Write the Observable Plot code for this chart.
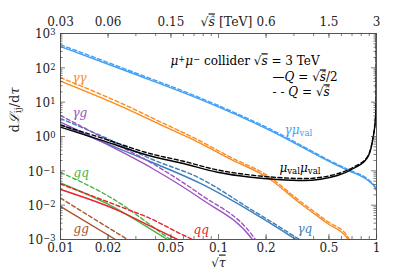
<!DOCTYPE html>
<html><head><meta charset="utf-8">
<script src="https://cdn.jsdelivr.net/npm/d3@7"></script>
<script src="https://cdn.jsdelivr.net/npm/@observablehq/plot@0.6"></script>
<style>html,body{margin:0;padding:0;background:#fff}svg{display:block}svg text{font-family:"DejaVu Serif",serif !important}</style>
</head><body><div id="chart"></div>
<script>
// ---- data (x = sqrt(tau), values = dL/dtau); "Half" = Q=sqrt(s^)/2 (solid), "Full" = Q=sqrt(s^) (dashed)
const photonMuX    = [0.01, 0.0277, 0.0769, 0.213, 0.566, 0.665, 0.916, 0.971, 1.0];
const photonMuHalf = [420, 73, 12, 1.49, 0.143, 0.102, 0.0457, 0.0349, 0.0267];
const photonMuFull = [470, 81, 13.2, 1.63, 0.154, 0.109, 0.049, 0.037, 0.028];

const photonPhotonX    = [0.01, 0.0277, 0.0449, 0.0695, 0.119, 0.204, 0.330, 0.490, 0.655, 0.70];
const photonPhotonHalf = [40.8, 5.71, 2.0, 0.80, 0.22, 0.0638, 0.0112, 0.00292, 0.00107, 0.0006];
const photonPhotonFull = [52, 7.0, 2.4, 0.93, 0.25, 0.073, 0.0128, 0.00335, 0.00125, 0.0007];

const muMuX    = [0.01, 0.0179, 0.0372, 0.060, 0.0986, 0.160, 0.236, 0.345, 0.566, 0.715, 0.877, 0.944, 0.986, 0.995, 0.999];
const muMuHalf = [1.87, 0.80, 0.27, 0.163, 0.0912, 0.0652, 0.0558, 0.0522, 0.0731, 0.117, 0.244, 0.764, 3.57, 11.2, 2000];
const muMuFull = [2.15, 0.93, 0.315, 0.19, 0.106, 0.0755, 0.064, 0.0595, 0.082, 0.128, 0.26, 0.80, 3.6, 11.3, 2000];

const photonGluonX    = [0.01, 0.0179, 0.0382, 0.0769, 0.1641, 0.18];
const photonGluonHalf = [2.64, 0.73, 0.117, 0.0156, 0.001, 0.00055];
const photonGluonFull = [4.08, 1.01, 0.163, 0.0204, 0.0013, 0.00071];

const photonQuarkX    = [0.01, 0.0179, 0.0382, 0.0769, 0.160, 0.247, 0.307, 0.33];
const photonQuarkHalf = [2.23, 0.74, 0.175, 0.0428, 0.0066, 0.00195, 0.00103, 0.00085];
const photonQuarkFull = [3.34, 1.07, 0.214, 0.0597, 0.0076, 0.00223, 0.00118, 0.00096];

const gluonQuarkX    = [0.01, 0.0208, 0.0476, 0.055];
const gluonQuarkHalf = [0.0442, 0.00977, 0.001, 0.00067];
const gluonQuarkFull = [0.0893, 0.0167, 0.00114, 0.00071];

const quarkQuarkX    = [0.01, 0.0240, 0.0371, 0.055, 0.0715, 0.08];
const quarkQuarkHalf = [0.0286, 0.00653, 0.00244, 0.001, 0.00055, 0.00037];
const quarkQuarkFull = [0.0413, 0.00895, 0.00408, 0.00162, 0.00087, 0.00058];

const gluonGluonX    = [0.01, 0.0223, 0.0266, 0.03];
const gluonGluonHalf = [0.00914, 0.001, 0.00062, 0.00041];
const gluonGluonFull = [0.0161, 0.00164, 0.001, 0.00071];

// tick labels
const bottomTicks = [0.01, 0.02, 0.05, 0.1, 0.2, 0.5, 1];
const bottomTickLabels = ["0.01", "0.02", "0.05", "0.1", "0.2", "0.5", "1"];
const topTickLabels = ["0.03", "0.06", "0.15", "", "0.6", "1.5", "3"];
const yTicks = [1e-3, 1e-2, 1e-1, 1, 10, 100, 1000];
const yTickLabels = ["10^{−3}", "10^{−2}", "10^{−1}", "10^{0}", "10^{1}", "10^{2}", "10^{3}"];

// ---- styles
const curves = [
  {x: photonMuX, half: photonMuHalf, full: photonMuFull, color: "#3f9ef5"},
  {x: photonPhotonX, half: photonPhotonHalf, full: photonPhotonFull, color: "#fb8b1e"},
  {x: photonQuarkX, half: photonQuarkHalf, full: photonQuarkFull, color: "#3b7fba"},
  {x: photonGluonX, half: photonGluonHalf, full: photonGluonFull, color: "#9b52c2"},
  {x: gluonGluonX, half: gluonGluonHalf, full: gluonGluonFull, color: "#a8562b"},
  {x: gluonQuarkX, half: gluonQuarkHalf, full: gluonQuarkFull, color: "#4cb447"},
  {x: quarkQuarkX, half: quarkQuarkHalf, full: quarkQuarkFull, color: "#e8232b"},
  {x: muMuX, half: muMuHalf, full: muMuFull, color: "#000000"}
];
const labels = [
  {x: 0.0119, y: 49, t: "*{γγ}", color: "#fb8b1e"},
  {x: 0.0119, y: 4.7, t: "*{γg}", color: "#9b52c2"},
  {x: 0.0121, y: 0.0835, t: "*{gq}", color: "#4cb447"},
  {x: 0.0121, y: 0.00195, t: "*{gg}", color: "#a8562b"},
  {x: 0.0695, y: 0.00183, t: "*{qq}", color: "#e8232b"},
  {x: 0.316, y: 0.00195, t: "*{γq}", color: "#3b7fba"},
  {x: 0.262, y: 1.49, t: "*{γμ}_{val}", color: "#3f9ef5"},
  {x: 0.243, y: 0.117, t: "*{μ}_{val}*{μ}_{val}", color: "#000000"},
  {x: 0.0497, y: 153, t: "*{μ}^{+}*{μ}^{−} collider √~{s} = 3 TeV", color: "#000000"},
  {x: 0.22, y: 52, t: "—*{Q} = √~{ŝ}/2", color: "#000000"},
  {x: 0.22, y: 19.1, t: "- - *{Q} = √~{ŝ}", color: "#000000"}
];

const W = 399, H = 276, ML = 60, MR = 23, MT = 33, MB = 37;
const FW = W - ML - MR, FH = H - MT - MB;
const rows = (x, y) => x.map((v, i) => ({x: v, y: y[i]}));
const minorX = [];
for (const e of [0.01, 0.1]) for (let k = 2; k <= 9; k++) minorX.push(e * k);
const minorY = [];
for (let p = -3; p < 3; p++) for (let k = 2; k <= 9; k++) minorY.push(k * 10 ** p);
const majorX = [0.01, 0.1, 1];
const tickStyle = {stroke: "#444", strokeWidth: 0.7};
const fontSize = 12;
const fontFamily = "DejaVu Serif";

const marks = [];
for (const c of curves) {
  marks.push(Plot.line(rows(c.x, c.half), {x: "x", y: "y", stroke: c.color, strokeWidth: 1.4, curve: "monotone-x", clip: true}));
  marks.push(Plot.line(rows(c.x, c.full), {x: "x", y: "y", stroke: c.color, strokeWidth: 1.4, strokeDasharray: "4,2.6", curve: "monotone-x", clip: true}));
}
// ticks (inward on all four sides)
marks.push(
  Plot.tickX(majorX.concat([0.02, 0.05, 0.2, 0.5]), {x: d => d, insetTop: FH - 5, ...tickStyle}),
  Plot.tickX(majorX.concat([0.02, 0.05, 0.2, 0.5]), {x: d => d, insetBottom: FH - 5, ...tickStyle}),
  Plot.tickX(minorX, {x: d => d, insetTop: FH - 3, ...tickStyle}),
  Plot.tickX(minorX, {x: d => d, insetBottom: FH - 3, ...tickStyle}),
  Plot.tickY(yTicks, {y: d => d, insetRight: FW - 5, ...tickStyle}),
  Plot.tickY(yTicks, {y: d => d, insetLeft: FW - 5, ...tickStyle}),
  Plot.tickY(minorY, {y: d => d, insetRight: FW - 2.5, ...tickStyle}),
  Plot.tickY(minorY, {y: d => d, insetLeft: FW - 2.5, ...tickStyle}),
  Plot.frame({stroke: "#444", strokeWidth: 0.9})
);
// tick labels
marks.push(
  Plot.text(bottomTicks, {x: d => d, text: (d, i) => bottomTickLabels[i], frameAnchor: "bottom", dy: 12, fontSize, fontFamily, fill: "#222"}),
  Plot.text(bottomTicks, {x: d => d, text: (d, i) => topTickLabels[i], frameAnchor: "top", dy: -16, fontSize, fontFamily, fill: "#222"}),
  Plot.text(yTicks, {y: d => d, text: (d, i) => yTickLabels[i], frameAnchor: "left", dx: -5, dy: 1, textAnchor: "end", fontSize, fontFamily, fill: "#222"}),
  Plot.text(["√~{τ}"], {x: 0.1, text: d => d, frameAnchor: "bottom", dy: 27, fontSize, fontFamily, fill: "#222"}),
  Plot.text(["√~{ŝ} [TeV]"], {x: 0.1, text: d => d, frameAnchor: "top", dy: -16, dx: 8, fontSize: 12.5, fontFamily, fill: "#222"}),
  Plot.text(["d*{ℒ}_{ij}/d*{τ}"], {text: d => d, frameAnchor: "left", dx: -46, dy: -4, rotate: -90, fontSize: 13, fontFamily, fill: "#222"})
);
for (const l of labels) {
  marks.push(Plot.text([l], {x: "x", y: "y", text: "t", fill: l.color, textAnchor: "start", fontSize, fontFamily}));
}

const svg = Plot.plot({
  width: W, height: H, marginLeft: ML, marginRight: MR, marginTop: MT, marginBottom: MB,
  x: {type: "log", domain: [0.01, 1], axis: null},
  y: {type: "log", domain: [1e-3, 1e3], axis: null},
  style: {fontFamily: "'DejaVu Serif', serif", background: "#fff", overflow: "visible"},
  marks
});

// rich text: ^{sup} _{sub} *{italic} ~{italic overline}
const NS = "http://www.w3.org/2000/svg";
svg.querySelectorAll("text").forEach(el => {
  const s = el.textContent;
  if (!/[\^_*~]\{/.test(s)) return;
  el.textContent = "";
  const re = /([\^_*~])\{([^}]*)\}/g;
  let last = 0, m;
  const add = (txt, kind) => {
    if (!txt) return;
    const t = document.createElementNS(NS, "tspan");
    t.textContent = txt;
    if (kind === "^") { t.setAttribute("baseline-shift", "36%"); t.setAttribute("font-size", "70%"); }
    if (kind === "_") { t.setAttribute("baseline-shift", "-22%"); t.setAttribute("font-size", "72%"); }
    if (kind === "*") t.setAttribute("font-style", "italic");
    if (kind === "~") { t.setAttribute("font-style", "italic"); t.setAttribute("text-decoration", "overline"); }
    el.appendChild(t);
  };
  while ((m = re.exec(s))) { add(s.slice(last, m.index), ""); add(m[2], m[1]); last = re.lastIndex; }
  add(s.slice(last), "");
});
document.getElementById("chart").appendChild(svg);
</script>
</body></html>
